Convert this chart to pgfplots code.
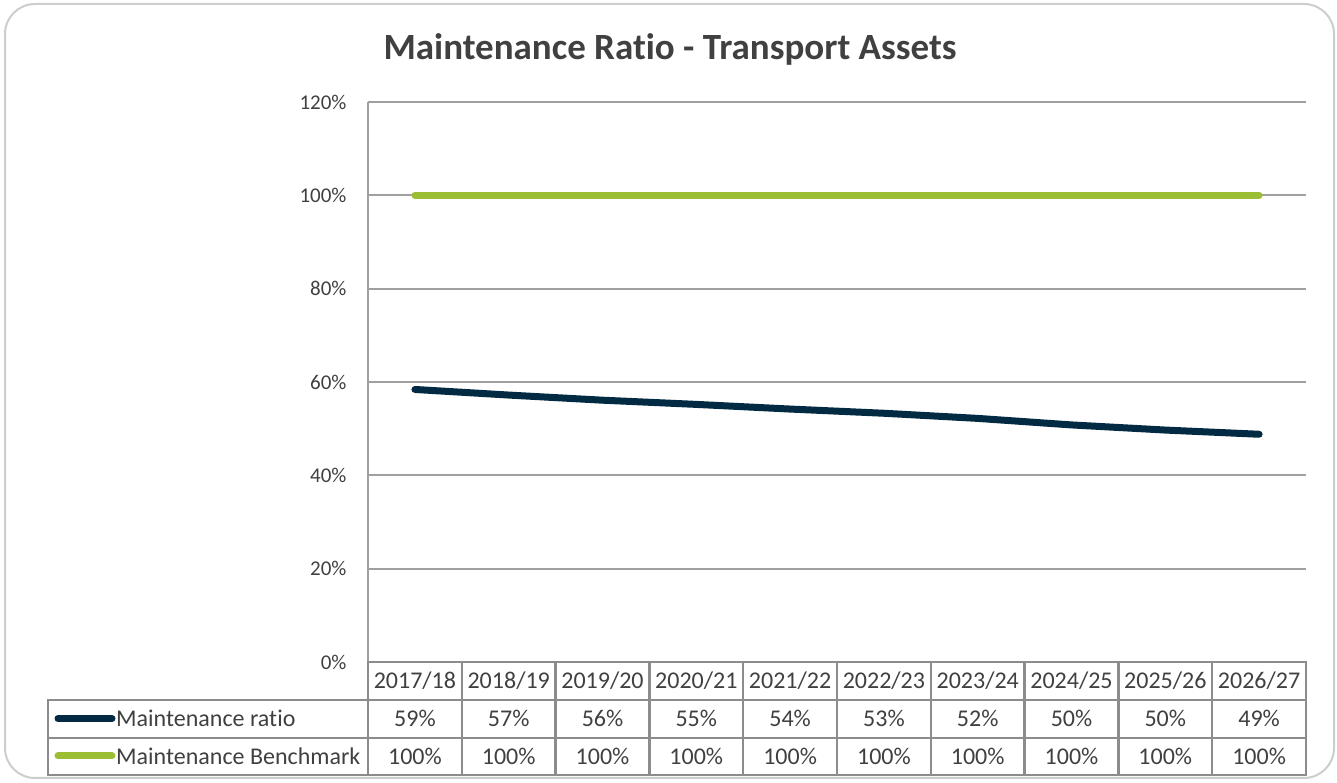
\documentclass[border=0pt]{standalone}
\usepackage{pgfplots}
\pgfplotsset{compat=1.18}
\usepackage{fontspec}
\setmainfont[Ligatures={NoCommon}]{Carlito}
\definecolor{navy}{RGB}{2,42,66}
\definecolor{lgreen}{RGB}{155,190,52}
\definecolor{txt}{RGB}{64,64,64}
\definecolor{gridc}{RGB}{160,160,160}
\definecolor{tabc}{RGB}{140,140,140}
\begin{document}
\begin{tikzpicture}[x=1pt,y=1pt]
\useasboundingbox (0,0) rectangle (1337,783);
\draw[line width=2pt, color={rgb,255:red,205;green,205;blue,205}, rounded corners=30pt] (5,5) rectangle (1334,779);
\node[font=\fontsize{37}{42}\selectfont\bfseries, text=txt] at (670,734) {Maintenance Ratio - Transport Assets};
\begin{axis}[
  at={(368pt,121pt)}, anchor=south west,
  scale only axis, width=938pt, height=560pt,
  xmin=-0.5, xmax=9.5, ymin=0, ymax=120,
  ytick={0,20,...,120}, xtick=\empty,
  yticklabel={\pgfmathprintnumber{\tick}\%},
  yticklabel style={font=\fontsize{21}{25}\selectfont, text=txt, xshift=-18pt},
  /pgf/number format/assume math mode=true,
  major tick length=0pt,
  axis line style={draw=none},
  ymajorgrids, grid style={gridc, line width=2pt},
  clip=false,
]
\draw[gridc, line width=2pt] (axis cs:-0.5,0) -- (axis cs:-0.5,120);
\addplot[lgreen, line width=7pt, line cap=round] coordinates {(0,100)(1,100)(2,100)(3,100)(4,100)(5,100)(6,100)(7,100)(8,100)(9,100)};
\addplot[navy, line width=7pt, line cap=round, line join=round] coordinates {(0,58.4)(1,57.2)(2,56.1)(3,55.2)(4,54.2)(5,53.3)(6,52.2)(7,50.8)(8,49.7)(9,48.8)};
\end{axis}
% data table
\begin{scope}[tabc, line width=2.5pt]
\draw (368,121) rectangle (1306,8);
\draw (48,83) rectangle (368,8);
\draw (48,83) -- (1306,83);
\draw (48,45) -- (1306,45);
\foreach \i in {1,...,9} {\draw (368+93.8*\i,121) -- (368+93.8*\i,8);}
\end{scope}
\foreach \lab [count=\i from 0] in {2017/18,2018/19,2019/20,2020/21,2021/22,2022/23,2023/24,2024/25,2025/26,2026/27} {
  \node[font=\fontsize{24}{28}\selectfont, text=txt] at (414.9+93.8*\i,102) {\lab};}
\foreach \lab [count=\i from 0] in {59,57,56,55,54,53,52,50,50,49} {
  \node[font=\fontsize{24}{28}\selectfont, text=txt] at (414.9+93.8*\i,64.5) {\lab\%};}
\foreach \i in {0,...,9} {
  \node[font=\fontsize{24}{28}\selectfont, text=txt] at (414.9+93.8*\i,27) {100\%};}
\draw[navy, line width=7pt, line cap=round] (58,64.5) -- (112,64.5);
\draw[lgreen, line width=7pt, line cap=round] (58,27) -- (112,27);
\node[font=\fontsize{24}{28}\selectfont, text=txt, anchor=west, inner sep=0pt] at (116,64.5) {Maintenance ratio};
\node[font=\fontsize{24}{28}\selectfont, text=txt, anchor=west, inner sep=0pt] at (116,27) {Maintenance Benchmark};
\end{tikzpicture}
\end{document}
